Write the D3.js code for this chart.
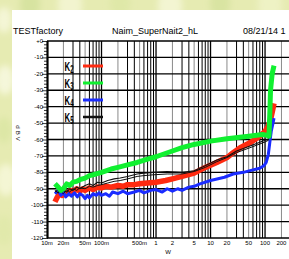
<!DOCTYPE html>
<html>
<head>
<meta charset="utf-8">
<script src="https://cdn.jsdelivr.net/npm/d3@7"></script>
<style>
  body { margin: 0; padding: 0; overflow: hidden; }
  svg { display: block; }
</style>
</head>
<body>
<script>
var width = 289,
    height = 259;

// power (W) vs distortion (dBV)
var k2 = [[0.014,-98],[0.0155,-95],[0.017,-93],[0.019,-94],[0.021,-92],[0.024,-93],[0.027,-91],[0.03,-92],
  [0.035,-90],[0.04,-91.5],[0.045,-90],[0.05,-91],[0.06,-89.5],[0.07,-90.5],[0.085,-89],[0.1,-89.5],
  [0.12,-88.5],[0.15,-89],[0.2,-88],[0.25,-88.5],[0.3,-87.5],[0.4,-87.5],[0.5,-87],[0.7,-86.5],[1,-86],
  [1.5,-85],[2,-84],[3,-82.5],[5,-80.5],[8,-77],[13,-74],[20,-71],[26,-68],[35,-65],[53,-62],[80,-58],
  [100,-55],[115,-52],[128,-47],[138,-42],[146,-38]];
var k3 = [[0.014,-87],[0.016,-89],[0.018,-91],[0.02,-90],[0.023,-87],[0.026,-88],[0.03,-86],[0.035,-85.5],
  [0.04,-84.5],[0.05,-83.5],[0.06,-82],[0.08,-81],[0.1,-80],[0.15,-78],[0.2,-77],[0.3,-75.5],[0.45,-74],
  [0.7,-72],[1,-70.5],[2,-67],[3,-65],[5,-63],[10,-61],[20,-59.5],[50,-58],[90,-57],[110,-57.5],
  [118,-58],[122,-45],[126,-30],[135,-20],[146,-15]];
var k4 = [[0.014,-93],[0.016,-91],[0.018,-94],[0.02,-92],[0.022,-95],[0.025,-93],[0.028,-94.5],[0.032,-92.5],
  [0.036,-95],[0.04,-93],[0.045,-94],[0.05,-96],[0.055,-94],[0.06,-95.5],[0.07,-93],[0.08,-94],[0.09,-92.5],
  [0.1,-94],[0.12,-93],[0.14,-94.5],[0.16,-92],[0.2,-93],[0.25,-91.5],[0.3,-93],[0.4,-92],[0.5,-91],
  [0.6,-92.5],[0.8,-91],[1,-90.5],[1.3,-92],[1.6,-90],[2,-91.5],[2.5,-90],[3,-91],[4,-89],[5,-88.5],
  [6.4,-87],[10,-85],[18,-83],[26,-81],[40,-80],[60,-78.5],[80,-77.5],[95,-76],[105,-74],[115,-69],
  [122,-62],[130,-55],[140,-50],[146,-47]];
var k5 = [[0.014,-91],[0.016,-92.5],[0.018,-90],[0.02,-91],[0.023,-92],[0.026,-90],[0.03,-91],[0.035,-89],
  [0.04,-90],[0.05,-88],[0.06,-87],[0.07,-88],[0.085,-86],[0.1,-86.5],[0.13,-85],[0.17,-84],[0.22,-83.5],
  [0.3,-82.5],[0.45,-81],[0.6,-80.5],[0.9,-80],[1.6,-79.5],[3,-80],[5,-79],[8,-76],[13,-72.5],[20,-70.5],
  [30,-67],[53,-64],[100,-60.5],[115,-60],[118,-50],[122,-35],[130,-25],[140,-19]];
// second channel of k5, drawn as its own thin trace
var k5b = [[0.014,-92],[0.016,-90.5],[0.018,-92],[0.02,-93],[0.023,-90.5],[0.026,-92],[0.03,-90],[0.035,-91],
  [0.04,-89.5],[0.05,-90],[0.06,-88.5],[0.07,-89],[0.085,-88],[0.1,-87.5],[0.13,-86.5],[0.17,-85.5],[0.22,-85],
  [0.3,-84],[0.45,-82.5],[0.6,-82],[0.9,-81.5],[1.6,-81],[3,-81],[5,-79.5],[8,-77],[13,-73.5],[20,-71],
  [30,-68],[53,-65],[100,-61.5],[115,-60.5],[118,-52],[122,-38]];

var yTicks = [0,-10,-20,-30,-40,-50,-60,-70,-80,-90,-100,-110,-120];
var xTicks = [0.01,0.02,0.05,0.1,0.5,1,2,5,10,20,50,100,200];
var xTickLabels = ["10m","20m","50m","100m","500m","1","2","5","10","20","50","100","200"];
var legendNames = ["2","3","4","5"];
var colors = ["#ff2a10","#10f030","#1a2cff","#111111"];

var svg = d3.select("body").append("svg")
    .attr("width", width)
    .attr("height", height);

// textured paper background
var defs = svg.append("defs");
defs.append("filter").attr("id", "blur")
  .append("feGaussianBlur").attr("stdDeviation", 3);
svg.append("rect").attr("width", width).attr("height", height).attr("fill", "#e6ebb2");
var blotches = [[4,20,8,"#f4f6d6"],[30,4,10,"#d7e3a0"],[70,5,12,"#f2f4cf"],[120,3,10,"#dfe8a8"],
  [170,6,12,"#f3f5d2"],[220,3,10,"#d9e4a2"],[270,5,12,"#eef2c4"],[5,80,9,"#f5f7da"],[4,130,8,"#dde7a6"],
  [6,180,10,"#f4f6d4"],[4,230,9,"#e1e9ab"]];
svg.append("g").attr("filter", "url(#blur)")
  .selectAll("ellipse").data(blotches).enter().append("ellipse")
  .attr("cx", function(d) { return d[0]; })
  .attr("cy", function(d) { return d[1]; })
  .attr("rx", function(d) { return d[2]; })
  .attr("ry", function(d) { return d[2] * 1.6; })
  .attr("fill", function(d) { return d[3]; });
svg.append("rect").attr("x", 12).attr("y", 10).attr("width", width - 12).attr("height", height - 10)
  .attr("fill", "#ffffff");

var x = d3.scaleLog().domain([0.01, 275]).range([47, 289]);
var y = d3.scaleLinear().domain([-120, 0]).range([238, 41]);

// header
var font = "Liberation Sans, Arial, sans-serif";
svg.append("text").attr("x", 13).attr("y", 34).text("TESTfactory")
  .attr("font-family", font).attr("font-size", 9);
svg.append("text").attr("x", 155).attr("y", 34).attr("text-anchor", "middle").text("Naim_SuperNait2_hL")
  .attr("font-family", font).attr("font-size", 9);
svg.append("text").attr("x", 243).attr("y", 34).text("08/21/14 1")
  .attr("font-family", font).attr("font-size", 9);

// vertical grid
var vgrid = [];
[0.01, 0.1, 1, 10, 100].forEach(function(dec) {
  for (var m = 1; m <= 9; m++) {
    var v = dec * m;
    if (v > 0.01 && v < 275) vgrid.push({v: v, m: m});
  }
});
svg.append("g").selectAll("line").data(vgrid).enter().append("line")
  .attr("x1", function(d) { return x(d.v); })
  .attr("x2", function(d) { return x(d.v); })
  .attr("y1", y(0)).attr("y2", y(-120))
  .attr("stroke", function(d) { return (d.m === 2 || d.m === 5) ? "#8a8a8a" : "#000"; })
  .attr("stroke-width", function(d) { return d.m === 1 ? 1.3 : 1; });

// horizontal grid
svg.append("g").selectAll("line").data(yTicks).enter().append("line")
  .attr("x1", 47).attr("x2", width)
  .attr("y1", function(d) { return y(d); })
  .attr("y2", function(d) { return y(d); })
  .attr("stroke", "#000").attr("stroke-width", 1.3);

// left ruler
svg.append("g").selectAll("line").data(d3.range(-120, 1, 2)).enter().append("line")
  .attr("x1", function(d) { return d % 10 === 0 ? 42 : 44; }).attr("x2", 48)
  .attr("y1", function(d) { return y(d) + 0.5; })
  .attr("y2", function(d) { return y(d) + 0.5; })
  .attr("stroke", "#000").attr("stroke-width", 0.8);
svg.append("line").attr("x1", 47.5).attr("x2", 47.5).attr("y1", y(0)).attr("y2", y(-120))
  .attr("stroke", "#000").attr("stroke-width", 2.2);

// axis labels
svg.append("g").selectAll("text").data(yTicks).enter().append("text")
  .attr("x", 43).attr("y", function(d) { return y(d) + 2; })
  .attr("text-anchor", "end")
  .attr("font-family", font).attr("font-size", 6)
  .text(function(d) { return d === 0 ? "+0" : d; });
svg.append("g").selectAll("text").data(xTicks).enter().append("text")
  .attr("x", function(d) { return x(d); }).attr("y", 245)
  .attr("text-anchor", "middle")
  .attr("font-family", font).attr("font-size", 6)
  .text(function(d, i) { return xTickLabels[i]; });
svg.append("text").attr("x", 168).attr("y", 254).attr("text-anchor", "middle")
  .attr("font-family", font).attr("font-size", 6).text("W");
svg.append("text").attr("transform", "translate(16,134) rotate(90)")
  .attr("text-anchor", "middle")
  .attr("font-family", font).attr("font-size", 6).attr("letter-spacing", 2).text("dBV");

// curves
var line = d3.line()
  .x(function(d) { return x(d[0]); })
  .y(function(d) { return y(d[1]); });
var traces = [
  {data: k2, color: colors[0], w: 5.5},
  {data: k4, color: colors[2], w: 3},
  {data: k5, color: colors[3], w: 1.1},
  {data: k5b, color: colors[3], w: 1},
  {data: k3, color: colors[1], w: 5}
];
svg.append("g").selectAll("path").data(traces).enter().append("path")
  .attr("d", function(d) { return line(d.data); })
  .attr("fill", "none")
  .attr("stroke", function(d) { return d.color; })
  .attr("stroke-width", function(d) { return d.w; })
  .attr("stroke-linejoin", "round");

// legend
var lg = svg.append("g").selectAll("g").data(legendNames).enter().append("g")
  .attr("transform", function(d, i) { return "translate(0," + (66 + i * 17) + ")"; });
lg.append("text").attr("transform", "translate(64.5,4.5) scale(0.6,1)")
  .attr("font-family", font).attr("font-size", 13).attr("font-weight", "bold").text("K");
lg.append("text").attr("transform", "translate(70.3,7) scale(0.6,1)")
  .attr("font-family", font).attr("font-size", 10).attr("font-weight", "bold").text(function(d) { return d; });
lg.append("line").attr("x1", 83).attr("x2", 103).attr("y1", 0).attr("y2", 0)
  .attr("stroke", function(d, i) { return colors[i]; })
  .attr("stroke-width", function(d, i) { return i === 3 ? 2.5 : 3; });
</script>
</body>
</html>
